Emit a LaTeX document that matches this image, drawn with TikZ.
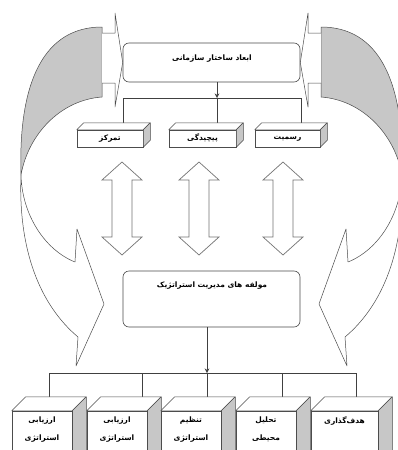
\documentclass[tikz,border=0pt]{standalone}
\usepackage{fontspec}
\usetikzlibrary{arrows.meta,calc}
\newfontfamily\fa[Script=Arabic]{DejaVu Sans}
\TeXXeTstate=1
\newcommand{\fatext}[1]{{\fa\bfseries\fontsize{7.5}{9}\selectfont\beginR #1\endR}}
\newcommand{\cubefaces}[3]{%
  \draw[facetop] (#1.north west) -- ++(#2,-#3) -- ($(#1.north east)+(#2,-#3)$) -- (#1.north east) -- cycle;
  \draw[faceside] (#1.north east) -- ++(#2,-#3) -- ($(#1.south east)+(#2,-#3)$) -- (#1.south east) -- cycle;}
\newcommand{\curvedband}{%
  \fill[bandgray] (102,27) .. controls (45,27) and (18,80) .. (21,175)
     .. controls (28,135) and (60,100) .. (102,97) -- cycle;
  \draw[bandline] (102,97) -- (102,27) .. controls (45,27) and (18,80) .. (21,175)
     .. controls (28,135) and (60,100) .. (102,97);
  \draw[bandline, fill=white] (21,175) .. controls (18,250) and (40,305) .. (78,337)
     -- (76,366) -- (104,304) -- (77,229) -- (75,262)
     .. controls (45,250) and (22,215) .. (21,175) -- cycle;}
\tikzset{
  line/.style={draw=black!75, line width=0.5pt},
  bandline/.style={draw=black!70, line width=0.5pt, line join=round},
  bandgray/.style={fill=black!22},
  rbox/.style={draw=black!70, line width=0.6pt, fill=white, rounded corners=6pt},
  front/.style={draw=black!70, line width=0.5pt, fill=white, inner sep=0pt},
  facetop/.style={draw=black!70, line width=0.5pt, fill=white, line join=round},
  faceside/.style={draw=black!70, line width=0.5pt, fill=black!22, line join=round},
  darrow/.style={draw=black!55, line width=0.7pt, fill=white, line join=miter},
  tip/.style={-{Stealth[length=4.5pt,width=4.5pt]}},
  lbl/.style={inner sep=0pt}
}
\begin{document}
\begin{tikzpicture}[x=1pt,y=-1pt]
\useasboundingbox (0,0) rectangle (398,450);
\clip (0,0) rectangle (398,450);
\fill[white] (0,0) rectangle (398,450);

% curved side arrows
\curvedband
\begin{scope}[shift={(423,0)}, xscale=-1]
  \curvedband
\end{scope}

% boxes (frames)
\node[rbox, minimum width=177pt, minimum height=39pt] (top) at (211.5,62.5) {};
\node[lbl] (toptext) at (212,59) {\fatext{ابعاد ساختار سازمانی}};
\node[rbox, minimum width=177pt, minimum height=56pt] (mid) at (211.5,299) {};
\node[lbl] (midtext) at (212,286) {\fatext{مولفه های مدیریت استراتژیک}};

% small arrows into top box
\draw[bandline, fill=white] (102,33) -- (115,33) -- (115,13) -- (top.west) -- (115,107) -- (115,83) -- (102,83);
\draw[bandline, fill=white] (321,33) -- (308,33) -- (308,13) -- (top.east) -- (308,107) -- (308,83) -- (321,83);

% top connectors
\coordinate (tj) at (217,98);
\coordinate (j1) at (123,98);
\coordinate (j3) at (301,98);
\draw[line, tip] (tj |- top.south) -- (tj);
\draw[line] (j1) -- (j3);

% top-row boxes
\node[front, minimum width=66pt, minimum height=17pt] (c1) at (110,138.5) {};
\node[front, minimum width=67pt, minimum height=17pt] (c2) at (202.5,138.5) {};
\node[front, minimum width=65pt, minimum height=17pt] (c3) at (287.5,138.5) {};
\draw[line] (j1) -- (j1 |- c1.north);
\draw[line] (tj) -- (tj |- c2.north);
\draw[line] (j3) -- (j3 |- c3.north);
\node[front, minimum width=66pt, minimum height=17pt] at (c1) {};
\node[front, minimum width=67pt, minimum height=17pt] at (c2) {};
\node[front, minimum width=65pt, minimum height=17pt] at (c3) {};
\cubefaces{c1}{7}{7}
\cubefaces{c2}{7}{7}
\cubefaces{c3}{7}{7}
\node[lbl] (c1t) at (c1) {\fatext{تمرکز}};
\node[lbl] (c2t) at (c2) {\fatext{پیچیدگی}};
\node[lbl] (c3t) at (c3) {\fatext{رسمیت}};

% double arrows
\foreach \cx in {122,199,283}{
  \draw[darrow] (\cx,162) -- (\cx+20,180) -- (\cx+10,180) -- (\cx+10,237) -- (\cx+20,237)
    -- (\cx,255) -- (\cx-20,237) -- (\cx-10,237) -- (\cx-10,180) -- (\cx-20,180) -- cycle;
}

% bottom connectors
\coordinate (d1) at (49,373);
\coordinate (d2) at (142,373);
\coordinate (d3) at (207,373);
\coordinate (d4) at (282,373);
\coordinate (d5) at (356,373);
\draw[line, tip] (d3 |- mid.south) -- (d3);
\draw[line] (d1) -- (d5);

% bottom boxes
\node[front, minimum width=60pt, minimum height=59pt] (b1) at (42,440.5) {};
\node[front, minimum width=60pt, minimum height=59pt] (b2) at (117,440.5) {};
\node[front, minimum width=60pt, minimum height=59pt] (b3) at (191,440.5) {};
\node[front, minimum width=60pt, minimum height=59pt] (b4) at (266,440.5) {};
\node[front, minimum width=67pt, minimum height=59pt] (b5) at (344.5,440.5) {};
\foreach \i in {1,...,5}{ \draw[line] (d\i) -- (d\i |- b\i.north); }
\foreach \i in {1,...,5}{ \cubefaces{b\i}{14}{14} }
\node[front, minimum width=60pt, minimum height=59pt] at (b1) {};
\node[front, minimum width=60pt, minimum height=59pt] at (b2) {};
\node[front, minimum width=60pt, minimum height=59pt] at (b3) {};
\node[front, minimum width=60pt, minimum height=59pt] at (b4) {};
\node[front, minimum width=67pt, minimum height=59pt] at (b5) {};

\node[lbl] (b1a) at ($(b1.north)+(0,10)$) {\fatext{ارزیابی}};
\node[lbl] (b1b) at ($(b1.north)+(0,28)$) {\fatext{استراتژی}};
\node[lbl] (b2a) at ($(b2.north)+(0,10)$) {\fatext{ارزیابی}};
\node[lbl] (b2b) at ($(b2.north)+(0,28)$) {\fatext{استراتژی}};
\node[lbl] (b3a) at ($(b3.north)+(0,10)$) {\fatext{تنظیم}};
\node[lbl] (b3b) at ($(b3.north)+(0,28)$) {\fatext{استراتژی}};
\node[lbl] (b4a) at ($(b4.north)+(0,10)$) {\fatext{تحلیل}};
\node[lbl] (b4b) at ($(b4.north)+(0,28)$) {\fatext{محیطی}};
\node[lbl] (b5a) at ($(b5.north)+(0,10)$) {\fatext{هدف‌گذاری}};
\end{tikzpicture}
\end{document}
